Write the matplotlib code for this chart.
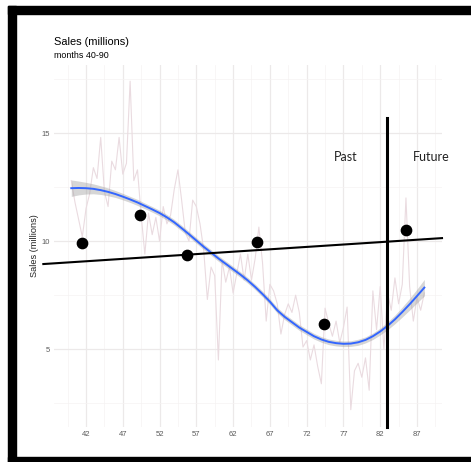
import numpy as np
import matplotlib
matplotlib.use("Agg")
import matplotlib.pyplot as plt
from matplotlib.patches import Rectangle

plt.rcParams["font.family"] = ["Liberation Sans", "DejaVu Sans"]

# monthly sales (noisy series), months 40-88 in half-month steps
months = np.arange(40, 88.5, 0.5)
sales = [12.8, 11.8, 11.0, 10.2, 11.5, 12.2, 13.4, 12.9, 14.8, 12.3,
         11.6, 13.7, 13.3, 14.8, 13.1, 13.6, 17.4, 12.8, 13.3, 11.2,
         9.4, 11.3, 10.3, 11.1, 10.0, 11.6, 10.8, 11.2, 12.4, 13.3,
         11.9, 10.4, 10.0, 11.9, 11.6, 10.8, 9.6, 7.3, 8.8, 8.4,
         4.5, 9.1, 8.1, 8.8, 7.6, 8.5, 9.4, 8.2, 9.4, 8.2,
         9.2, 10.65, 9.0, 6.3, 8.0, 7.7, 7.1, 5.7, 6.6, 7.1,
         6.7, 7.5, 6.7, 5.1, 5.4, 4.5, 5.2, 4.2, 3.4, 6.9,
         6.2, 5.6, 6.3, 5.3, 6.0, 6.95, 2.2, 4.0, 4.35, 3.7,
         4.6, 3.1, 7.7, 5.9, 7.9, 5.0, 7.6, 6.8, 8.3, 7.1,
         8.0, 12.0, 7.9, 6.3, 7.4, 6.8, 7.6]

# smoothed trend + band half width, one value per month
smooth_x = np.arange(40, 89, 1)
smooth_y = [12.45, 12.46, 12.45, 12.42, 12.36, 12.28, 12.18, 12.06, 11.93, 11.79,
            11.63, 11.47, 11.3, 11.1, 10.87, 10.6, 10.32, 10.03, 9.74, 9.47,
            9.2, 8.95, 8.7, 8.45, 8.18, 7.88, 7.55, 7.2, 6.8, 6.5,
            6.25, 6.0, 5.8, 5.6, 5.45, 5.34, 5.28, 5.25, 5.26, 5.32,
            5.43, 5.6, 5.82, 6.08, 6.38, 6.72, 7.08, 7.46, 7.85]
smooth_se = [0.38, 0.32, 0.27, 0.23, 0.2, 0.18, 0.16, 0.15, 0.14, 0.14,
             0.13, 0.13, 0.13, 0.13, 0.13, 0.13, 0.13, 0.13, 0.13, 0.13,
             0.13, 0.13, 0.13, 0.13, 0.13, 0.13, 0.13, 0.13, 0.13, 0.13,
             0.13, 0.13, 0.13, 0.13, 0.13, 0.13, 0.13, 0.13, 0.13, 0.14,
             0.14, 0.15, 0.16, 0.18, 0.2, 0.23, 0.27, 0.32, 0.38]

# sample points and linear fit
pt_x = [41.5, 49.3, 55.7, 65.2, 74.3, 85.5]
pt_y = [9.93, 11.2, 9.35, 9.95, 6.15, 10.5]
fit_x = [36.2, 90.4]
fit_y = [8.94, 10.14]

split_month = 82.9
xticks = [42, 47, 52, 57, 62, 67, 72, 77, 82, 87]
yticks = [5, 10, 15]

fig = plt.figure(figsize=(4.71, 4.62), dpi=100)
ax = fig.add_axes([54/471, 1-427/462, (442-54)/471, (427-65)/462])

ax.set_xlim(37.65, 90.4)
ax.set_ylim(1.4, 18.15)
ax.set_xticks(xticks)
ax.set_yticks(yticks)
ax.set_xticks(np.arange(39.5, 90, 5), minor=True)
ax.set_yticks([2.5, 7.5, 12.5, 17.5], minor=True)
ax.grid(which="major", color="#ece9e9", lw=0.9)
ax.grid(which="minor", color="#f5f3f3", lw=0.5)
ax.tick_params(which="both", length=0, labelsize=5.5, labelcolor="#5a5a5a", pad=3)
for s in ax.spines.values():
    s.set_visible(False)

ax.plot(months, sales, color="#eadbe0", lw=0.8, zorder=2)
lo = np.array(smooth_y) - np.array(smooth_se)
hi = np.array(smooth_y) + np.array(smooth_se)
ax.fill_between(smooth_x, lo, hi, color="#999999", alpha=0.4, lw=0, zorder=3)
ax.plot(smooth_x, smooth_y, color="#3366ff", lw=1.4, zorder=4)

ax.plot(fit_x, fit_y, color="black", lw=1.5, zorder=5, clip_on=False)
ax.scatter(pt_x, pt_y, s=55, color="black", zorder=6)
ax.plot([split_month, split_month], [1.4, 15.7], color="black", lw=2.2, zorder=6, clip_on=False)

ax.text(77.3, 13.9, "Past", fontsize=9, family="Lato", ha="center", va="center", color="#222222")
ax.text(89.0, 13.9, "Future", fontsize=9, family="Lato", ha="center", va="center", color="#222222")

ax.set_ylabel("Sales (millions)", fontsize=6.6, color="#222222", labelpad=2)
fig.text(54/471, 1-42/462, "Sales (millions)", fontsize=7.9, va="center")
fig.text(54/471, 1-56/462, "months 40-90", fontsize=6.4, va="center")

# black frame (top, left, bottom)
fig.add_artist(Rectangle((8/471, 1-14/462), 1, 8/462, transform=fig.transFigure, color="black"))
fig.add_artist(Rectangle((8/471, 0), 8/471, 1-6/462, transform=fig.transFigure, color="black"))
fig.add_artist(Rectangle((8/471, 0), 1, 5/462, transform=fig.transFigure, color="black"))

fig.savefig("out.png", dpi=100)
